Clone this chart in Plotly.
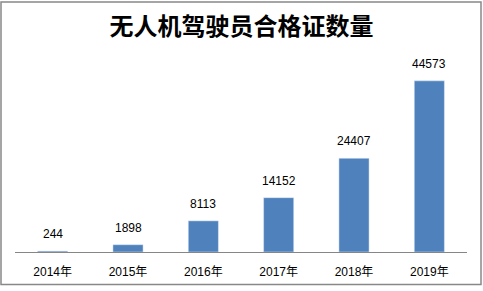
import plotly.graph_objects as go

years = ["2014年", "2015年", "2016年", "2017年", "2018年", "2019年"]
counts = [244, 1898, 8113, 14152, 24407, 44573]

L, R, T, B = 15, 16, 60, 36
W, H = 483, 291
pw, ph = W - L - R, H - T - B

fig = go.Figure(go.Bar(
    x=years, y=counts, marker_color="#4F81BD", cliponaxis=False,
))
fig.update_layout(
    width=W, height=H, margin=dict(l=L, r=R, t=T, b=B),
    paper_bgcolor="white", plot_bgcolor="white",
    bargap=0.6, showlegend=False,
    title=dict(text="<b>无人机驾驶员合格证数量</b>", x=0.5, xanchor="center",
               y=1 - 27 / H, yanchor="middle",
               font=dict(size=24, color="#000000", family="Noto Sans CJK SC")),
    xaxis=dict(showline=True, linecolor="#868686", linewidth=1, ticks="",
               ticklabelstandoff=9,
               tickfont=dict(size=12, color="#000000", family="Liberation Sans, Noto Sans CJK SC")),
    yaxis=dict(range=[0, 50000], visible=False, showgrid=False),
    shapes=[dict(type="rect", xref="paper", yref="paper",
                 x0=(1 - L) / pw, x1=(W - 2 - L) / pw,
                 y0=-(H - 3 - (H - B)) / ph, y1=(H - B - 1) / ph,
                 line=dict(color="#888888", width=1.5), fillcolor="rgba(0,0,0,0)")],
)
for yr, v in zip(years, counts):
    fig.add_annotation(x=yr, y=v, text=str(v), showarrow=False,
                       yanchor="bottom", yshift=8,
                       font=dict(size=12, color="#000000", family="Liberation Sans"))
fig.write_html("out.html")
